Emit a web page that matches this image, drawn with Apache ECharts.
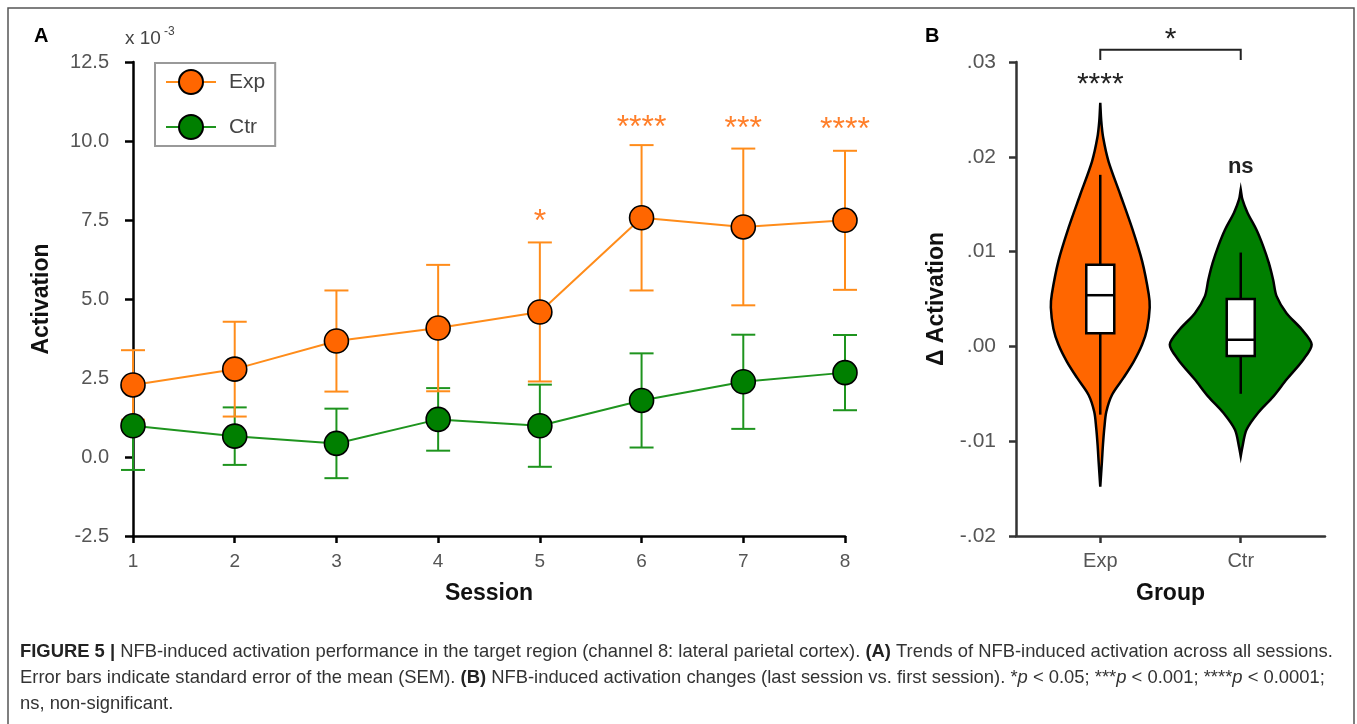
<!DOCTYPE html>
<html><head><meta charset="utf-8">
<script src="https://cdn.jsdelivr.net/npm/echarts@6/dist/echarts.min.js"></script>
<style>html,body{margin:0;padding:0;background:#fff}#c{width:1357px;height:724px}</style>
</head><body><div id="c"></div>
<script>
// ---------- Panel A data ----------
const sessions = [1, 2, 3, 4, 5, 6, 7, 8];
const expMean = [2.28, 2.78, 3.67, 4.08, 4.59, 7.57, 7.28, 7.49];
const expSem  = [1.10, 1.50, 1.60, 2.00, 2.20, 2.30, 2.48, 2.20];
const ctrMean = [0.99, 0.66, 0.43, 1.19, 0.99, 1.79, 2.38, 2.67];
const ctrSem  = [1.40, 0.91, 1.10, 0.99, 1.30, 1.49, 1.49, 1.19];
const sigSessions = [5, 6, 7, 8];
const sigLabels = ['*', '****', '***', '****'];
const sigY = [7.42, 10.40, 10.36, 10.34];
const yTicksA = [-2.5, 0, 2.5, 5, 7.5, 10, 12.5];

// ---------- Panel B data ----------
const groups = ['Exp', 'Ctr'];
// violin outline: values (top to bottom) and half-widths (x-axis units)
const expViolinV = [0.0257, 0.0238, 0.0220, 0.0195, 0.0160, 0.0125, 0.0090, 0.0055, 0.0041, 0.0019, 0.0002, -0.0016, -0.0033, -0.0051, -0.0069, -0.0086, -0.0104, -0.0121, -0.0148];
const expViolinW = [0, 0.007, 0.021, 0.059, 0.143, 0.226, 0.298, 0.345, 0.352, 0.334, 0.298, 0.238, 0.166, 0.084, 0.043, 0.029, 0.019, 0.012, 0];
const ctrViolinV = [0.01655, 0.0155, 0.0141, 0.0123, 0.0106, 0.0088, 0.0070, 0.0053, 0.0035, 0.0018, 0.0002, -0.0014, -0.0035, -0.0053, -0.0070, -0.0088, -0.0106, -0.0116];
const ctrViolinW = [0, 0.012, 0.048, 0.112, 0.159, 0.200, 0.231, 0.255, 0.326, 0.434, 0.505, 0.445, 0.326, 0.231, 0.124, 0.041, 0.012, 0];
// box stats: [min, q1, median, q3, max]
const expBox = [-0.0072, 0.0014, 0.0054, 0.0086, 0.0181];
const ctrBox = [-0.0050, -0.0010, 0.0007, 0.0050, 0.0099];
const annotText = ['****', 'ns'];
const annotY = [0.02758, 0.0189];
const bracketY = 0.0313;
const bracketDropY = 0.0302;
const bracketLabel = '*';
const bracketLabelY = 0.0324;

const FONT = "'Liberation Sans', Arial, Helvetica, sans-serif";
const CAPFONT = "'Liberation Sans', Arial, sans-serif";
const ORANGE_LINE = '#FF8C1A', ORANGE_FILL = '#FF6600';
const GREEN_LINE = '#1E941E', GREEN_FILL = '#007F00';

const chart = echarts.init(document.getElementById('c'), null, {renderer: 'canvas'});

function errBar(color) {
  return function (params, api) {
    const x = api.value(0), m = api.value(1), s = api.value(2);
    const t = api.coord([x, m + s]), b = api.coord([x, m - s]);
    const cap = 12;
    const st = {stroke: color, lineWidth: 2};
    return {type: 'group', children: [
      {type: 'line', shape: {x1: t[0], y1: t[1], x2: b[0], y2: b[1]}, style: st},
      {type: 'line', shape: {x1: t[0] - cap, y1: t[1], x2: t[0] + cap, y2: t[1]}, style: st},
      {type: 'line', shape: {x1: b[0] - cap, y1: b[1], x2: b[0] + cap, y2: b[1]}, style: st}
    ]};
  };
}

function textItem(color, size, weight) {
  return function (params, api) {
    const p = api.coord([api.value(0), api.value(1)]);
    return {type: 'text', x: p[0], y: p[1], style: {
      text: api.value(2), fill: color,
      font: weight + ' ' + size + 'px ' + FONT, align: 'center', verticalAlign: 'middle'}};
  };
}

const violinV = [expViolinV, ctrViolinV];
const violinW = [expViolinW, ctrViolinW];
const violinColor = [ORANGE_FILL, GREEN_FILL];

const CAP_SIZE = 18.4;
const capRich = {
  b: {fontFamily: CAPFONT, fontSize: CAP_SIZE, fontWeight: 'bold', fill: '#222'},
  i: {fontFamily: CAPFONT, fontSize: CAP_SIZE, fontStyle: 'italic', fill: '#333'}
};

const option = {
  animation: false,
  backgroundColor: '#fff',
  graphic: [
    {type: 'rect', shape: {x: 8, y: 8, width: 1346, height: 740}, style: {fill: 'none', stroke: '#555', lineWidth: 1.5}, silent: true},
    {type: 'text', x: 34, y: 26, style: {text: 'A', font: 'bold 20px ' + FONT, fill: '#000'}},
    {type: 'text', x: 925, y: 26, style: {text: 'B', font: 'bold 20px ' + FONT, fill: '#000'}},
    {type: 'text', x: 125, y: 29, style: {text: 'x 10', font: '19px ' + FONT, fill: '#444'}},
    {type: 'text', x: 164, y: 26, style: {text: '-3', font: '12px ' + FONT, fill: '#444'}},
    {type: 'text', x: 20, y: 643, style: {
      text: '{b|FIGURE 5 |} NFB-induced activation performance in the target region (channel 8: lateral parietal cortex). {b|(A)} Trends of NFB-induced activation across all sessions.',
      font: CAP_SIZE + 'px ' + CAPFONT, fill: '#333', rich: capRich}},
    {type: 'text', x: 20, y: 669, style: {
      text: 'Error bars indicate standard error of the mean (SEM). {b|(B)} NFB-induced activation changes (last session vs. first session). *{i|p} < 0.05; ***{i|p} < 0.001; ****{i|p} < 0.0001;',
      font: CAP_SIZE + 'px ' + CAPFONT, fill: '#333', rich: capRich}},
    {type: 'text', x: 20, y: 695, style: {
      text: 'ns, non-significant.', font: CAP_SIZE + 'px ' + CAPFONT, fill: '#333'}}
  ],
  legend: {
    data: ['Exp', 'Ctr'], orient: 'vertical', left: 155, top: 63,
    padding: [6, 10, 6, 10], itemGap: 19, itemWidth: 50, itemHeight: 30,
    borderColor: '#999', borderWidth: 2, backgroundColor: '#fff',
    textStyle: {fontSize: 21, color: '#444', fontFamily: FONT, padding: [0, 0, 0, 8]},
    selectedMode: false
  },
  grid: [
    {left: 133, top: 62, width: 712, height: 474, outerBoundsMode: 'none', containLabel: false},
    {left: 1016, top: 62, width: 309, height: 474, outerBoundsMode: 'none', containLabel: false}
  ],
  xAxis: [
    {gridIndex: 0, type: 'value', min: 1, max: 8, interval: 1,
     name: 'Session', nameLocation: 'middle', nameGap: 46,
     nameTextStyle: {fontSize: 23, fontWeight: 'bold', color: '#111', fontFamily: FONT},
     axisLine: {onZero: false, lineStyle: {color: '#000', width: 2.5}},
     axisTick: {show: true, length: 7, lineStyle: {color: '#000', width: 2.5}},
     axisLabel: {fontSize: 19, color: '#555', margin: 16, fontFamily: FONT},
     splitLine: {show: false}},
    {gridIndex: 1, type: 'value', min: 0.4, max: 2.6,
     name: 'Group', nameLocation: 'middle', nameGap: 46,
     nameTextStyle: {fontSize: 23, fontWeight: 'bold', color: '#111', fontFamily: FONT},
     axisLine: {onZero: false, lineStyle: {color: '#333', width: 2.5}},
     axisTick: {show: true, length: 7, customValues: [1, 2], lineStyle: {color: '#333', width: 2.5}},
     axisLabel: {fontSize: 20, color: '#555', margin: 15, fontFamily: FONT, customValues: [1, 2],
       formatter: v => groups[Math.round(v) - 1] || ''},
     splitLine: {show: false}}
  ],
  yAxis: [
    {gridIndex: 0, type: 'value', min: yTicksA[0], max: yTicksA[yTicksA.length - 1], interval: 2.5,
     name: 'Activation', nameLocation: 'middle', nameGap: 80,
     nameTextStyle: {fontSize: 23, fontWeight: 'bold', color: '#111', fontFamily: FONT},
     axisLine: {show: true, onZero: false, lineStyle: {color: '#000', width: 2.5}},
     axisTick: {show: true, length: 8, lineStyle: {color: '#000', width: 2.5}},
     axisLabel: {fontSize: 20, color: '#555', margin: 24, fontFamily: FONT, formatter: v => v.toFixed(1)},
     splitLine: {show: false}},
    {gridIndex: 1, type: 'value', min: -0.02, max: 0.03, interval: 0.01,
     name: 'Δ Activation', nameLocation: 'middle', nameGap: 68,
     nameTextStyle: {fontSize: 23, fontWeight: 'bold', color: '#111', fontFamily: FONT},
     axisLine: {show: true, onZero: false, lineStyle: {color: '#333', width: 2.5}},
     axisTick: {show: true, length: 7, lineStyle: {color: '#333', width: 2.5}},
     axisLabel: {fontSize: 21, color: '#555', margin: 20, fontFamily: FONT,
       formatter: v => { const s = Math.abs(v).toFixed(2).replace(/^0/, ''); return (v < -1e-9 ? '-' : '') + s; }},
     splitLine: {show: false}}
  ],
  series: [
    {name: 'CtrErr', type: 'custom', xAxisIndex: 0, yAxisIndex: 0, z: 2,
     data: sessions.map((s, i) => [s, ctrMean[i], ctrSem[i]]), renderItem: errBar(GREEN_LINE),
     encode: {x: 0, y: 1}},
    {name: 'ExpErr', type: 'custom', xAxisIndex: 0, yAxisIndex: 0, z: 2,
     data: sessions.map((s, i) => [s, expMean[i], expSem[i]]), renderItem: errBar(ORANGE_LINE),
     encode: {x: 0, y: 1}},
    {name: 'Ctr', type: 'line', xAxisIndex: 0, yAxisIndex: 0, z: 5,
     data: sessions.map((s, i) => [s, ctrMean[i]]), symbol: 'circle', symbolSize: 24,
     itemStyle: {color: GREEN_FILL, borderColor: '#000', borderWidth: 1.6},
     lineStyle: {color: GREEN_LINE, width: 2}, clip: false},
    {name: 'Exp', type: 'line', xAxisIndex: 0, yAxisIndex: 0, z: 6,
     data: sessions.map((s, i) => [s, expMean[i]]), symbol: 'circle', symbolSize: 24,
     itemStyle: {color: ORANGE_FILL, borderColor: '#000', borderWidth: 1.6},
     lineStyle: {color: ORANGE_LINE, width: 2}, clip: false},
    {name: 'sigA', type: 'custom', xAxisIndex: 0, yAxisIndex: 0, z: 7, clip: false,
     data: sigSessions.map((s, i) => [s, sigY[i], sigLabels[i]]),
     renderItem: textItem('#FF7F2A', 32, 'normal'), encode: {x: 0, y: 1}},
    // violins
    {name: 'violin', type: 'custom', xAxisIndex: 1, yAxisIndex: 1, z: 3, clip: false,
     data: groups.map((g, i) => [i + 1, i]),
     renderItem: function (params, api) {
       const x = api.value(0), gi = api.value(1);
       const V = violinV[gi], W = violinW[gi];
       const pts = [];
       for (let k = 0; k < V.length; k++) pts.push(api.coord([x + W[k], V[k]]));
       for (let k = V.length - 1; k >= 0; k--) pts.push(api.coord([x - W[k], V[k]]));
       return {type: 'polygon', shape: {points: pts, smooth: 0.3},
         style: {fill: violinColor[gi], stroke: '#000', lineWidth: 2.5}};
     }, encode: {x: 0}},
    // boxes
    {name: 'box', type: 'custom', xAxisIndex: 1, yAxisIndex: 1, z: 4, clip: false,
     data: [[1].concat(expBox), [2].concat(ctrBox)],
     renderItem: function (params, api) {
       const x = api.value(0);
       const pMin = api.coord([x, api.value(1)]), pQ1 = api.coord([x, api.value(2)]),
             pMed = api.coord([x, api.value(3)]), pQ3 = api.coord([x, api.value(4)]),
             pMax = api.coord([x, api.value(5)]);
       const hw = 14, st = {stroke: '#000', lineWidth: 2.5};
       return {type: 'group', children: [
         {type: 'line', shape: {x1: pMax[0], y1: pMax[1], x2: pQ3[0], y2: pQ3[1]}, style: st},
         {type: 'line', shape: {x1: pQ1[0], y1: pQ1[1], x2: pMin[0], y2: pMin[1]}, style: st},
         {type: 'rect', shape: {x: pQ3[0] - hw, y: pQ3[1], width: 2 * hw, height: pQ1[1] - pQ3[1]},
          style: {fill: '#fff', stroke: '#000', lineWidth: 2.5}},
         {type: 'line', shape: {x1: pMed[0] - hw, y1: pMed[1], x2: pMed[0] + hw, y2: pMed[1]}, style: st}
       ]};
     }, encode: {x: 0}},
    // annotations panel B
    {name: 'annB', type: 'custom', xAxisIndex: 1, yAxisIndex: 1, z: 7, clip: false,
     data: groups.map((g, i) => [i + 1, annotY[i], annotText[i]]),
     renderItem: function (params, api) {
       const p = api.coord([api.value(0), api.value(1)]);
       const t = api.value(2);
       const isNs = t === 'ns';
       return {type: 'text', x: p[0], y: p[1], style: {text: t, fill: '#222',
         font: (isNs ? 'bold 22px ' : '30px ') + FONT, align: 'center', verticalAlign: 'middle'}};
     }, encode: {x: 0, y: 1}},
    {name: 'bracket', type: 'custom', xAxisIndex: 1, yAxisIndex: 1, z: 7, clip: false,
     data: [[1, 2, bracketY, bracketDropY, bracketLabelY, bracketLabel]],
     renderItem: function (params, api) {
       const a = api.coord([api.value(0), api.value(2)]), b = api.coord([api.value(1), api.value(2)]);
       const a2 = api.coord([api.value(0), api.value(3)]), b2 = api.coord([api.value(1), api.value(3)]);
       const l = api.coord([(api.value(0) + api.value(1)) / 2, api.value(4)]);
       const st = {stroke: '#222', lineWidth: 2};
       return {type: 'group', children: [
         {type: 'polyline', shape: {points: [a2, a, b, b2]}, style: Object.assign({fill: 'none'}, st)},
         {type: 'text', x: l[0], y: l[1], style: {text: api.value(5), fill: '#222', font: '30px ' + FONT, align: 'center', verticalAlign: 'middle'}}
       ]};
     }, encode: {x: 0}}
  ]
};
chart.setOption(option);
</script>
</body></html>
